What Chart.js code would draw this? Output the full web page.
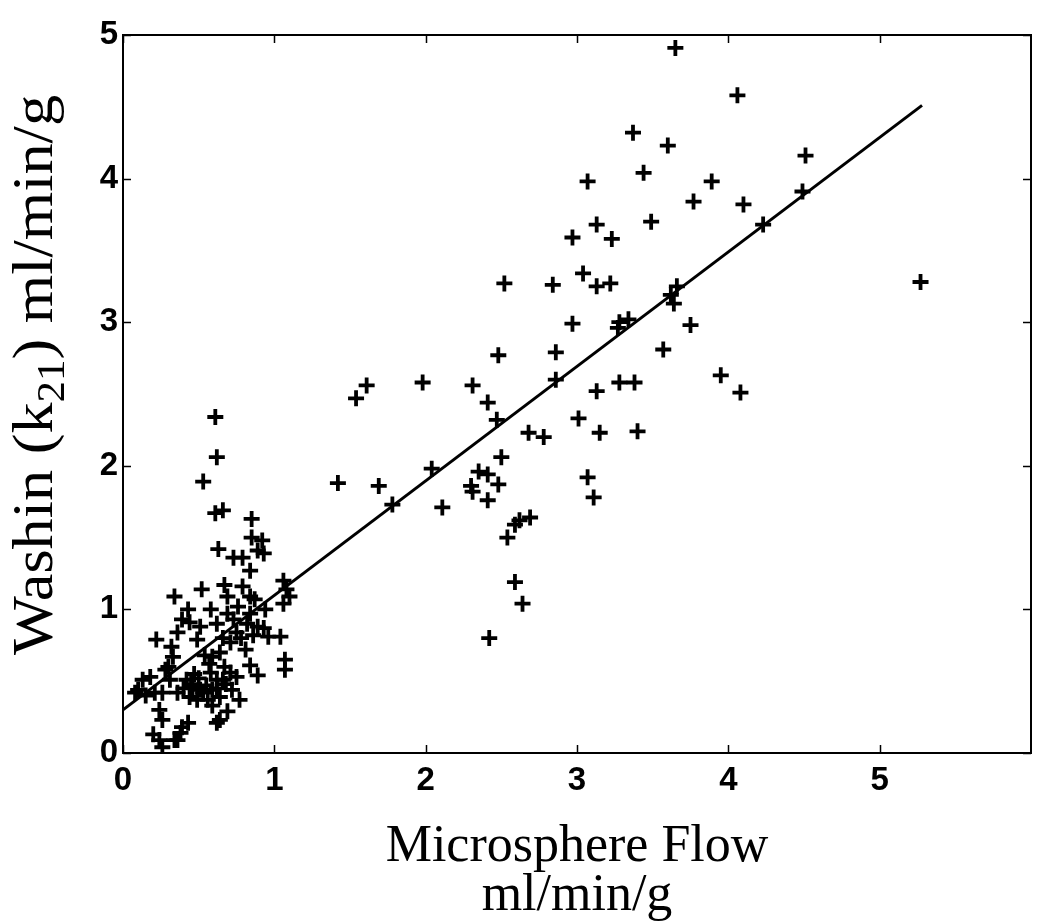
<!DOCTYPE html>
<html>
<head>
<meta charset="utf-8">
<script src="https://cdn.jsdelivr.net/npm/chart.js@4.4.0/dist/chart.umd.min.js"></script>
<style>
  html, body { margin: 0; padding: 0; background: #fff; }
  #wrap { width: 1050px; height: 924px; }
</style>
</head>
<body>
<div id="wrap"><canvas id="chart" width="1050" height="924"></canvas></div>
<script>
// Washin (k21) against microsphere flow

// microsphere flow, ml/min/g (x)
const flowX = [
  2.48, 2.86, 1.61, 1.54, 1.98, 2.31, 2.41, 2.47, 2.86, 3.13,
  3.01, 2.68, 2.78, 3.15, 2.50, 2.04, 2.35, 2.41, 2.30, 2.31,
  2.48, 2.41, 1.42, 1.69, 1.78, 2.11, 3.07, 3.11, 2.69, 2.62,
  2.59, 2.54, 2.59, 2.64, 2.42, 3.65, 4.06, 3.37, 3.60, 3.44,
  3.07, 3.89, 4.51, 4.49, 3.77, 4.10, 3.49, 3.13, 2.97, 3.23,
  4.23, 2.84, 3.04, 3.13, 3.22, 3.62, 3.66, 3.64, 5.27, 3.28,
  3.34, 3.27, 2.97, 3.75, 3.57, 3.28, 3.38, 3.95, 4.08, 3.40,
  2.52,
  0.61, 0.62, 0.53, 0.61, 0.66, 0.85, 0.85, 0.92, 0.89, 0.93,
  0.84, 0.63, 0.73, 0.79, 1.06, 1.08, 1.10, 1.06, 0.67, 0.69,
  0.79, 0.84, 0.34, 0.52, 0.58, 0.43, 0.44, 0.39, 0.51, 0.69,
  0.73, 0.75, 0.71, 0.84, 0.89, 0.93, 0.96, 1.04, 1.07, 1.07,
  0.89, 0.22, 0.32, 0.33, 0.36, 0.30, 0.28, 0.31, 0.13, 0.18,
  0.10, 0.15, 0.21, 0.26, 0.24, 0.26, 0.36, 0.42, 0.46, 0.51,
  0.44, 0.49, 0.53, 0.58, 0.62, 0.59, 0.56, 0.59, 0.64, 0.66,
  0.71, 0.67, 0.59, 0.64, 0.75, 0.77, 0.64, 0.62, 0.43, 0.38,
  0.34, 0.20, 0.24, 0.26, 0.36, 0.81, 0.84, 0.54, 0.49, 0.72,
  0.87, 0.94, 0.69, 0.39, 0.08, 0.45, 0.50, 0.55, 0.62, 0.68,
  0.40, 0.78, 0.82, 0.76, 0.86, 0.66, 0.62, 0.47, 0.57
];

// washin k21, ml/min/g (y)
const washinY = [
  2.77, 2.79, 2.56, 2.47, 2.58, 2.56, 2.44, 2.32, 2.60, 2.52,
  2.33, 2.23, 2.20, 2.23, 2.06, 1.98, 1.96, 1.94, 1.86, 1.82,
  1.87, 1.76, 1.88, 1.86, 1.73, 1.71, 1.92, 1.78, 1.64, 1.62,
  1.59, 1.50, 1.19, 1.04, 0.80, 4.91, 4.58, 4.32, 4.23, 4.04,
  3.98, 3.98, 4.16, 3.91, 3.84, 3.82, 3.70, 3.68, 3.59, 3.58,
  3.68, 3.26, 3.34, 3.25, 3.27, 3.19, 3.25, 3.13, 3.28, 3.00,
  3.02, 2.96, 2.99, 2.98, 2.81, 2.58, 2.58, 2.63, 2.51, 2.24,
  3.27,
  2.34, 2.06, 1.89, 1.67, 1.69, 1.63, 1.50, 1.48, 1.41, 1.39,
  1.27, 1.42, 1.36, 1.36, 1.20, 1.14, 1.09, 1.04, 1.17, 1.09,
  1.16, 1.09, 1.09, 1.14, 1.00, 1.00, 0.91, 0.93, 0.88, 0.97,
  0.93, 0.84, 0.77, 0.97, 0.88, 0.87, 0.81, 0.81, 0.65, 0.58,
  0.54, 0.79, 0.74, 0.67, 0.84, 0.60, 0.58, 0.51, 0.51, 0.53,
  0.44, 0.40, 0.42, 0.42, 0.30, 0.23, 0.42, 0.51, 0.46, 0.44,
  0.39, 0.37, 0.42, 0.56, 0.51, 0.44, 0.37, 0.33, 0.39, 0.51,
  0.56, 0.60, 0.67, 0.70, 0.53, 0.37, 0.23, 0.21, 0.21, 0.14,
  0.09, 0.13, 0.09, 0.04, 0.09, 0.72, 0.61, 0.68, 0.79, 0.44,
  1.07, 1.00, 0.29, 0.18, 0.42, 0.48, 0.52, 0.47, 0.45, 0.48,
  0.45, 0.80, 0.90, 1.02, 0.82, 0.80, 0.90, 0.55, 0.62
];

// regression line end points
const fitX = [0, 5.28];
const fitY = [0.30, 4.51];

const xTickValues = [0, 1, 2, 3, 4, 5];
const yTickValues = [0, 1, 2, 3, 4, 5];
const xTitleLines = ["Microsphere Flow", "ml/min/g"];
const yTitleParts = ["Washin (k", "21", ") ml/min/g"];   // middle part is a subscript

const SERIF = "'Liberation Serif', 'Times New Roman', serif";
const SANS = "'Liberation Sans', Arial, sans-serif";

const points = flowX.map((x, i) => ({ x, y: washinY[i] }));
const fitLine = fitX.map((x, i) => ({ x, y: fitY[i] }));

// box around the plot + inward ticks on all four sides (matlab look)
const frameTicks = {
  id: 'frameTicks',
  afterDatasetsDraw(chart) {
    const { ctx, chartArea: a, scales } = chart;
    const len = 8;
    ctx.save();
    ctx.strokeStyle = '#000';
    ctx.lineWidth = 2;
    ctx.strokeRect(a.left, a.top, a.right - a.left, a.bottom - a.top);
    ctx.lineWidth = 1.5;
    ctx.beginPath();
    for (const v of xTickValues) {
      const px = Math.round(scales.x.getPixelForValue(v)) + 0.5;
      ctx.moveTo(px, a.bottom); ctx.lineTo(px, a.bottom - len);
      ctx.moveTo(px, a.top); ctx.lineTo(px, a.top + len);
    }
    for (const v of yTickValues) {
      const py = Math.round(scales.y.getPixelForValue(v)) + 0.5;
      ctx.moveTo(a.left, py); ctx.lineTo(a.left + len, py);
      ctx.moveTo(a.right, py); ctx.lineTo(a.right - len, py);
    }
    ctx.stroke();
    ctx.restore();
  }
};

// y title drawn by hand so that "21" can sit as a subscript
const yTitle = {
  id: 'yTitle',
  afterDraw(chart) {
    const ctx = chart.ctx;
    const big = 58, small = 40, drop = 12, length = 560;
    ctx.save();
    ctx.fillStyle = '#000';
    ctx.textBaseline = 'alphabetic';
    ctx.textAlign = 'left';
    const widths = yTitleParts.map((t, i) => {
      ctx.font = (i === 1 ? small : big) + 'px ' + SERIF;
      return ctx.measureText(t).width;
    });
    const total = widths.reduce((s, w) => s + w, 0);
    ctx.translate(52, 375);
    ctx.rotate(-Math.PI / 2);
    ctx.scale(length / total, 1);
    let x = -total / 2;
    yTitleParts.forEach((t, i) => {
      ctx.font = (i === 1 ? small : big) + 'px ' + SERIF;
      ctx.fillText(t, x, i === 1 ? drop : 0);
      x += widths[i];
    });
    ctx.restore();
  }
};

new Chart(document.getElementById('chart'), {
  type: 'scatter',
  data: {
    datasets: [
      {
        label: 'data',
        data: points,
        pointStyle: 'cross',
        pointRadius: 8,
        pointHoverRadius: 8,
        borderColor: '#000',
        borderWidth: 3.8
      },
      {
        label: 'fit',
        data: fitLine,
        showLine: true,
        borderColor: '#000',
        borderWidth: 3,
        pointRadius: 0
      }
    ]
  },
  options: {
    responsive: false,
    animation: false,
    events: [],
    layout: { padding: { top: 35, right: 19, left: 0, bottom: 0 } },
    plugins: {
      legend: { display: false },
      tooltip: { enabled: false }
    },
    scales: {
      x: {
        type: 'linear',
        min: 0,
        max: 6,
        afterBuildTicks: s => { s.ticks = xTickValues.map(v => ({ value: v })); },
        afterFit: s => { s.height = 924 - 753; },
        grid: { display: false, drawTicks: false },
        border: { display: false },
        ticks: {
          color: '#000',
          padding: 8,
          maxRotation: 0,
          font: { family: SANS, weight: 'bold', size: 33 }
        },
        title: {
          display: true,
          text: xTitleLines,
          color: '#000',
          font: { family: SERIF, size: 52, lineHeight: 0.94 },
          padding: { top: 0, bottom: 3 }
        }
      },
      y: {
        type: 'linear',
        min: 0,
        max: 5,
        afterBuildTicks: s => { s.ticks = yTickValues.map(v => ({ value: v })); },
        afterFit: s => { s.width = 123; },
        grid: { display: false, drawTicks: false },
        border: { display: false },
        ticks: {
          color: '#000',
          padding: 5,
          font: { family: SANS, weight: 'bold', size: 33 }
        }
      }
    }
  },
  plugins: [frameTicks, yTitle]
});
</script>
</body>
</html>
